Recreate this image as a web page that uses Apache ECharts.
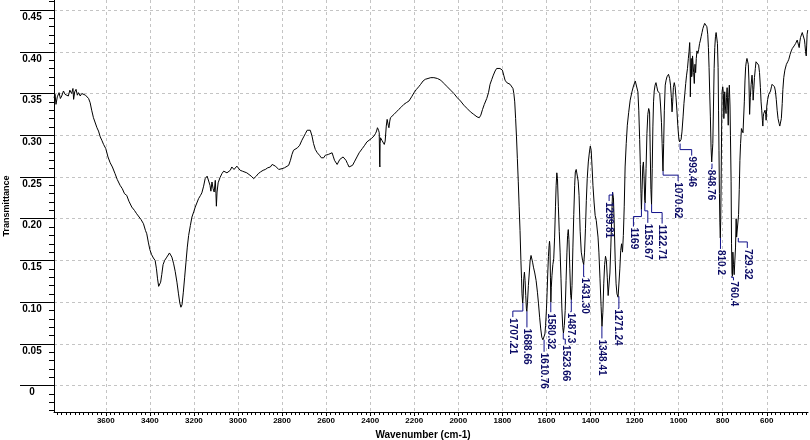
<!DOCTYPE html>
<html>
<head>
<meta charset="utf-8">
<title>IR spectrum</title>
<script src="https://cdn.jsdelivr.net/npm/echarts@6/dist/echarts.min.js"></script>
<style>
  html, body { margin: 0; padding: 0; background: #fff; }
  #chart { width: 810px; height: 440px; }
</style>
</head>
<body>
<div id="chart"></div>
<script>
// spectrum: [wavenumber cm-1, transmittance]
var specHigh = [
  [3835,0.345],[3830,0.349],[3826,0.337],[3820,0.346],[3812,0.351],[3806,0.344],[3800,0.347],[3792,0.353],
  [3785,0.349],[3778,0.351],[3770,0.347],[3763,0.354],[3755,0.350],[3749,0.356],[3746,0.343],[3741,0.352],
  [3735,0.355],[3729,0.348],[3724,0.351],[3716,0.347],[3709,0.350],[3700,0.352],[3692,0.348],[3686,0.349],
  [3678,0.344],[3671,0.339],[3664,0.330],[3656,0.321],[3648,0.319],[3640,0.309],[3633,0.305],[3625,0.298],
  [3618,0.294],[3610,0.289],[3600,0.284],[3590,0.274],[3580,0.267],[3570,0.262],[3558,0.254],[3548,0.247],
  [3535,0.240],[3525,0.236],[3515,0.230],[3505,0.228],[3495,0.221],[3482,0.214],[3470,0.210],[3460,0.206],
  [3452,0.204],[3440,0.199],[3429,0.194],[3420,0.186],[3414,0.182],[3407,0.172],[3400,0.163],[3392,0.157],
  [3384,0.153],[3376,0.150],[3370,0.140],[3365,0.128],[3360,0.119],[3356,0.117],[3351,0.124],[3346,0.133],
  [3340,0.145],[3333,0.150],[3323,0.154],[3311,0.159],[3305,0.157],[3300,0.154],[3292,0.146],[3285,0.137],
  [3277,0.124],[3270,0.110],[3264,0.099],[3259,0.094],[3254,0.097],[3248,0.112],[3242,0.130],[3236,0.148],
  [3230,0.166],[3224,0.180],[3216,0.192],[3209,0.202],[3200,0.209],[3194,0.214],[3185,0.220],[3179,0.224],
  [3170,0.228],[3164,0.231],[3156,0.239],[3149,0.248],[3140,0.251],[3133,0.250],[3127,0.240],[3123,0.233],
  [3118,0.244],[3113,0.236],[3108,0.232],[3103,0.246],[3100,0.230],[3098,0.215],[3095,0.232],[3090,0.243],
  [3082,0.249],[3073,0.254],[3065,0.257],[3058,0.258],[3050,0.255],[3042,0.253],[3035,0.258],[3028,0.262],
  [3023,0.264],[3018,0.259],[3012,0.258],[3005,0.263],[2997,0.261],[2990,0.258],[2980,0.257],[2971,0.257],
  [2960,0.255],[2951,0.254],[2940,0.251],[2929,0.248],[2922,0.250],[2917,0.251],[2908,0.254],[2898,0.256],
  [2886,0.258],[2876,0.259],[2865,0.261],[2853,0.262],[2845,0.265],[2838,0.266],[2830,0.263],[2823,0.261],
  [2815,0.259],[2808,0.259],[2800,0.260],[2789,0.261],[2780,0.262],[2770,0.264],[2762,0.270],[2755,0.277],
  [2748,0.282],[2740,0.284],[2730,0.285],[2720,0.288],[2710,0.294],[2702,0.298],[2694,0.302],[2686,0.306],
  [2678,0.307],[2672,0.306],[2664,0.299],[2657,0.290],[2649,0.283],[2640,0.279],[2630,0.276],[2622,0.273],
  [2615,0.271],[2611,0.273],[2604,0.276],[2598,0.275],[2590,0.277],[2582,0.276],[2573,0.279],[2568,0.275],
  [2562,0.270],[2556,0.268],[2550,0.265],[2544,0.268],[2538,0.271],[2530,0.273],[2523,0.274],[2516,0.273],
  [2510,0.270],[2503,0.266],[2496,0.262],[2489,0.260],[2480,0.264],[2470,0.269],[2460,0.274],[2450,0.279],
  [2436,0.284],[2425,0.288],[2415,0.292],[2406,0.294],[2395,0.296],[2383,0.299],[2376,0.302],[2371,0.305],
  [2367,0.309],[2365,0.311],[2362,0.306],[2359,0.303],[2357,0.265],[2356,0.262],[2355,0.290],[2353,0.297],
  [2347,0.294],[2341,0.293],[2336,0.289],[2332,0.293],[2327,0.311],[2323,0.319],[2318,0.312],[2315,0.309],
  [2311,0.317],[2308,0.321],[2300,0.323],[2292,0.325],[2281,0.328],[2270,0.331],[2258,0.334],[2247,0.337],
  [2236,0.339],[2224,0.341],[2212,0.346],[2201,0.351],[2190,0.355],[2180,0.358],[2171,0.361],[2160,0.365],
  [2150,0.367],[2141,0.369],[2125,0.369],[2111,0.369],[2095,0.368],[2080,0.366]
];
var specMid = [
  [2065,0.362],[2050,0.358],[2035,0.354],[2020,0.350],[2005,0.345],[1990,0.341],[1975,0.336],[1960,0.332],
  [1945,0.328],[1930,0.325],[1915,0.322],[1905,0.321],[1898,0.324],[1890,0.331],[1882,0.337],[1871,0.344],
  [1863,0.351],[1856,0.361],[1848,0.367],[1841,0.372],[1833,0.377],[1826,0.380],[1818,0.381],[1811,0.380],
  [1805,0.381],[1800,0.378],[1794,0.372],[1788,0.366],[1780,0.363],[1773,0.362],[1765,0.361],[1758,0.360],
  [1752,0.356],[1748,0.350],[1744,0.340],[1740,0.320],[1736,0.298],[1732,0.272],[1728,0.245],[1724,0.215],
  [1720,0.186],[1716,0.150],[1713,0.128],[1711,0.110],[1708,0.099],[1706,0.105],[1703,0.128],[1700,0.136],
  [1697,0.126],[1694,0.108],[1691,0.092],[1689,0.089],[1686,0.100],[1682,0.120],[1678,0.135],[1674,0.150],
  [1670,0.156],[1667,0.155],[1663,0.148],[1659,0.142],[1653,0.135],[1647,0.126],[1641,0.112],[1636,0.098],
  [1631,0.082],[1626,0.068],[1621,0.058],[1616,0.055],[1611,0.055],[1607,0.062],[1604,0.072],[1600,0.092],
  [1597,0.112],[1594,0.135],[1591,0.155],[1588,0.168],[1586,0.173],[1584,0.166],[1582,0.130],[1580,0.100],
  [1578,0.118],[1575,0.132],[1571,0.145],[1567,0.152],[1563,0.178],[1559,0.215],[1556,0.240],[1553,0.255],
  [1550,0.248],[1546,0.215],[1542,0.185],[1538,0.160],[1534,0.128],[1530,0.092],[1526,0.070],[1523,0.063],
  [1519,0.072],[1515,0.090],[1511,0.126],[1507,0.160],[1504,0.180],[1501,0.187],[1498,0.175],[1494,0.140],
  [1490,0.108],[1487,0.103],[1484,0.120],[1480,0.166],[1476,0.205],[1472,0.240],[1469,0.256],[1465,0.259],
  [1460,0.259],[1456,0.245],[1452,0.228],[1447,0.185],[1442,0.160],[1436,0.150],[1431,0.145],[1427,0.160],
  [1423,0.188],[1419,0.222],[1415,0.248],[1410,0.268],[1405,0.280],[1401,0.287],[1397,0.282],[1393,0.262],
  [1389,0.240],[1384,0.220],[1379,0.204],[1374,0.198],[1370,0.196],[1366,0.178],[1362,0.160],[1357,0.128],
  [1352,0.095],[1348,0.071],[1344,0.088],[1340,0.122],[1336,0.145],[1332,0.155],[1328,0.150],[1324,0.130],
  [1320,0.108],[1316,0.110],[1312,0.135],[1308,0.165],[1304,0.200],[1300,0.232],[1296,0.225],[1292,0.190],
  [1288,0.150],[1284,0.122],[1280,0.110],[1275,0.106],[1271,0.107],[1267,0.140],[1263,0.162],[1259,0.170],
  [1255,0.160],[1251,0.180],[1247,0.215],[1243,0.262],[1238,0.290],[1233,0.312],[1227,0.327],[1220,0.342],
  [1212,0.352],[1205,0.359]
];
var specLow = [
  [1197,0.365],[1190,0.364],[1185,0.352],[1181,0.330],[1177,0.295],[1174,0.265],[1171,0.230],[1169,0.211],
  [1166,0.235],[1163,0.262],[1160,0.268],[1157,0.250],[1154,0.222],[1152,0.219],[1148,0.260],[1144,0.302],
  [1140,0.325],[1136,0.332],[1132,0.328],[1129,0.280],[1126,0.235],[1123,0.217],[1120,0.260],[1117,0.310],
  [1114,0.340],[1111,0.353],[1107,0.360],[1103,0.363],[1099,0.358],[1095,0.353],[1090,0.354],[1086,0.350],
  [1082,0.335],[1078,0.315],[1075,0.290],[1072,0.262],[1071,0.257],[1068,0.290],[1065,0.330],[1061,0.360],
  [1057,0.366],[1053,0.370],[1046,0.373],[1041,0.368],[1037,0.360],[1033,0.345],[1030,0.328],[1027,0.340],
  [1024,0.357],[1020,0.363],[1016,0.358],[1012,0.345],[1008,0.330],[1004,0.312],[1000,0.298],[996,0.292],
  [993,0.290],[989,0.295],[985,0.304],[980,0.322],[976,0.338],[972,0.350],[968,0.362],[964,0.372],
  [960,0.380],[956,0.392],[953,0.400],[950,0.411],[948,0.395],[947,0.346],[945,0.380],[943,0.392],
  [941,0.370],[939,0.373],[937,0.395],[935,0.393],[932,0.375],[929,0.362],[926,0.385],[923,0.375],
  [920,0.392],[917,0.401],[913,0.398],[909,0.403],[905,0.410],[902,0.413],[898,0.418],[894,0.423],
  [890,0.428],[886,0.431],[882,0.434],[879,0.435],[876,0.435],[872,0.430],[868,0.421],[865,0.405],
  [862,0.381],[859,0.350],[856,0.322],[853,0.285],[850,0.268],[848,0.266],[845,0.290],[842,0.335],
  [839,0.380],[836,0.405],[833,0.418],[830,0.423],[827,0.422],[824,0.410],[821,0.381],[819,0.330],
  [817,0.282],[815,0.230],[813,0.195],[811,0.177],[809,0.200],[807,0.250],[805,0.310],[803,0.352],
  [800,0.358],[797,0.350],[795,0.320],[793,0.330],[791,0.352],[788,0.335],[785,0.326],[783,0.345],
  [780,0.357],[777,0.330],[775,0.312],[773,0.345],[770,0.360],[767,0.335],[765,0.300],[762,0.245],
  [760,0.170],[758,0.135],[756,0.131],[754,0.160],[751,0.145],[748,0.133],[745,0.150],[742,0.165],
  [739,0.200],[737,0.178],[734,0.180],[731,0.176],[728,0.205],[725,0.235],[722,0.270],[719,0.290],
  [715,0.308],[712,0.310],[708,0.303],[705,0.305],[702,0.340],[699,0.365],[696,0.382],[693,0.388],
  [690,0.392],[687,0.392],[684,0.385],[681,0.365],[678,0.325],[675,0.345],[671,0.361],[667,0.372],
  [664,0.360],[662,0.342],[659,0.355],[656,0.369],[652,0.380],[649,0.388],[645,0.390],[641,0.389],
  [637,0.384],[633,0.375],[629,0.357],[626,0.340],[623,0.330],[620,0.318],[618,0.311],[616,0.322],
  [614,0.326],[611,0.325],[608,0.330],[605,0.325],[603,0.318],[600,0.335],[596,0.343],[591,0.349],
  [587,0.351],[583,0.353],[579,0.358],[576,0.361],[572,0.363],[568,0.363],[565,0.358],[561,0.353],
  [557,0.343],[553,0.330],[549,0.320],[544,0.314],[541,0.311],[538,0.310],[534,0.320],[530,0.338],
  [527,0.355],[523,0.369],[518,0.378],[511,0.385],[505,0.388],[500,0.391],[494,0.397],[489,0.401],
  [484,0.404],[480,0.403],[476,0.407],[473,0.409],[469,0.410],[465,0.411],[462,0.414],[459,0.413],
  [456,0.408],[453,0.405],[450,0.412],[447,0.417],[443,0.420],[439,0.423],[435,0.422],[432,0.421],
  [429,0.414],[427,0.409],[424,0.400],[421,0.395],[419,0.408],[417,0.421],[414,0.426]
];

// picked peaks
var peakWn = [1707.21, 1688.66, 1610.76, 1580.32, 1523.66, 1487.3, 1431.30, 1348.41, 1299.81, 1271.24,
              1169, 1153.67, 1122.71, 1070.62, 993.46, 848.76, 810.2, 760.4, 729.32];
var peakT  = [0.099, 0.089, 0.055, 0.100, 0.063, 0.103, 0.145, 0.071, 0.232, 0.107,
              0.211, 0.219, 0.217, 0.257, 0.290, 0.266, 0.177, 0.131, 0.177];
var peakText = ['1707.21', '1688.66', '1610.76', '1580.32', '1523.66', '1487.3', '1431.30', '1348.41', '1299.81', '1271.24',
                '1169', '1153.67', '1122.71', '1070.62', '993.46', '848.76', '810.2', '760.4', '729.32'];

// axis ticks
var xMajor = [600, 800, 1000, 1200, 1400, 1600, 1800, 2000, 2200, 2400, 2600, 2800, 3000, 3200, 3400, 3600];
var yMajor = [0, 0.05, 0.10, 0.15, 0.20, 0.25, 0.30, 0.35, 0.40, 0.45];
var xMinor = [];
for (var v = 420; v <= 3820; v += 20) xMinor.push(v);
var yMinor = [];
for (var k = -3; k <= 46; k++) yMinor.push(k / 100);

// leader layout per label, pixels: [knee down, label dx, label top dy]
var leaderLayout = [
  [8, -10, 14], [16, 0, 16], [12, 0, 12], [10, 0, 10], [6, 2, 11], [12, -1, 12], [12, 1, 12], [12, 0, 12],
  [3, -3.5, 9], [12, -1, 12], [7, -8, 17], [8, 3, 20], [8, 10.5, 19], [4, 15, 10], [6, 11.6, 12],
  [5, -1, 5], [11, 0, 11], [1, 2, 4], [4, 9, 10]
];

var spectrum = specHigh.concat(specMid, specLow);
var peaks = peakWn.map(function (w, i) { return [w, peakT[i], i]; });

var font = '"Liberation Sans", Arial, sans-serif';
var gridLine = { show: true, lineStyle: { color: '#c4c4c4', type: [3, 3], width: 1 } };
var chart = echarts.init(document.getElementById('chart'));

chart.setOption({
  animation: false,
  backgroundColor: '#fff',
  grid: { left: 54, right: 2, top: 0, bottom: 28, containLabel: false, outerBoundsMode: 'none' },
  xAxis: [
    {
      type: 'value', inverse: true, min: 413, max: 3835, position: 'bottom',
      name: 'Wavenumber (cm-1)', nameLocation: 'middle', nameGap: 17,
      nameTextStyle: { fontFamily: font, fontWeight: 'bold', fontSize: 10, color: '#000', padding: [0, 16, 0, 0] },
      axisLine: { onZero: false, lineStyle: { color: '#000', width: 1 } },
      axisTick: { customValues: xMajor, length: 4, lineStyle: { color: '#000' } },
      axisLabel: {
        customValues: xMajor, margin: 5, fontFamily: font, fontWeight: 'bold', fontSize: 8, color: '#000',
        formatter: function (val) { return String(val); }
      },
      splitLine: gridLine
    },
    {
      // minor ticks every 20 cm-1
      type: 'value', inverse: true, min: 413, max: 3835, position: 'bottom', offset: 0,
      axisLine: { show: false, onZero: false },
      axisTick: { customValues: xMinor, length: 3, lineStyle: { color: '#000' } },
      axisLabel: { show: false },
      splitLine: { show: false }
    }
  ],
  yAxis: [
    {
      type: 'value', min: -0.0315, max: 0.462, position: 'left',
      name: 'Transmittance', nameLocation: 'middle', nameGap: 42, nameRotate: 90,
      nameTextStyle: { fontFamily: font, fontWeight: 'bold', fontSize: 9, color: '#000' },
      axisLine: { show: true, onZero: false, lineStyle: { color: '#000', width: 1 } },
      axisTick: { show: true, customValues: yMajor, length: 34, lineStyle: { color: '#000', width: 1 } },
      axisLabel: {
        customValues: yMajor, margin: 22, align: 'center', verticalAlign: 'top', padding: [2, 0, 0, 0],
        fontFamily: font, fontWeight: 'bold', fontSize: 10, color: '#000',
        formatter: function (val) { return val === 0 ? '0' : val.toFixed(2); }
      },
      splitLine: gridLine
    },
    {
      // minor ticks every 0.01
      type: 'value', min: -0.0315, max: 0.462, position: 'left', offset: 0,
      axisLine: { show: false, onZero: false },
      axisTick: { show: true, customValues: yMinor, length: 5, lineStyle: { color: '#000' } },
      axisLabel: { show: false },
      splitLine: { show: false }
    }
  ],
  series: [
    {
      name: 'spectrum', type: 'line', xAxisIndex: 0, yAxisIndex: 0,
      data: spectrum, showSymbol: false, symbol: 'none', smooth: false,
      lineStyle: { color: '#000', width: 1 }
    },
    {
      // peak labels with their leader lines
      name: 'peaks', type: 'custom', xAxisIndex: 0, yAxisIndex: 0,
      data: peaks, encode: { x: 0, y: 1 }, clip: false, z: 5,
      renderItem: function (params, api) {
        var i = api.value(2);
        var p = api.coord([api.value(0), api.value(1)]);
        var lay = leaderLayout[i];
        var lx = p[0] + lay[1], ly = p[1] + lay[2];
        return {
          type: 'group',
          children: [
            {
              type: 'polyline',
              shape: { points: [p, [p[0], p[1] + lay[0]], [lx, p[1] + lay[0]], [lx, ly]] },
              style: { stroke: '#10108a', lineWidth: 1, fill: null }
            },
            {
              type: 'text', x: lx, y: ly + 1, rotation: -Math.PI / 2,
              style: {
                text: peakText[i], x: 0, y: 0, align: 'left', verticalAlign: 'middle',
                fontFamily: font, fontWeight: 'bold', fontSize: 10, fill: '#0c0c66'
              }
            }
          ]
        };
      }
    }
  ]
});
</script>
</body>
</html>
